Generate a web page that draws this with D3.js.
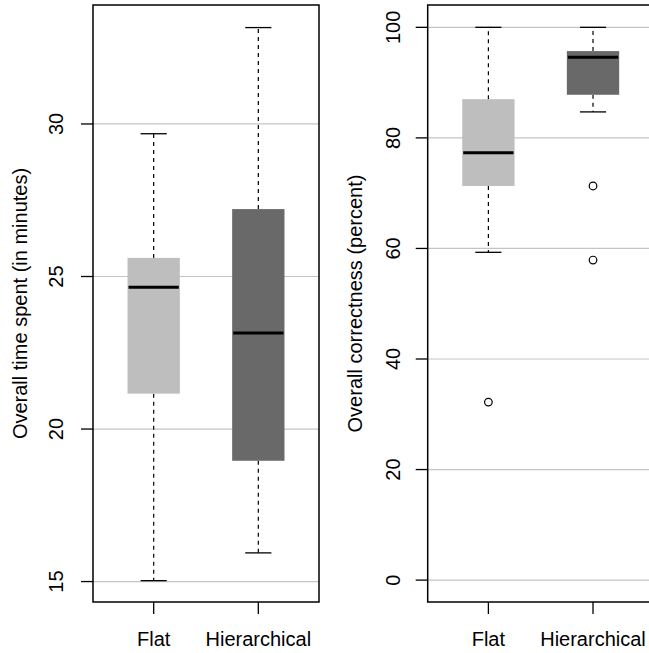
<!DOCTYPE html>
<html>
<head>
<meta charset="utf-8">
<script src="https://cdn.jsdelivr.net/npm/d3@7"></script>
<style>
  html, body { margin: 0; padding: 0; background: #fff; }
  svg { display: block; }
  text { font-family: "Liberation Sans", Arial, Helvetica, sans-serif; fill: #000; }
</style>
</head>
<body>
<script>
// ---- data ----
const categories = ["Flat", "Hierarchical"];
const boxColors = ["#bebebe", "#696969"];

// [lower whisker, Q1, median, Q3, upper whisker]
const timeStats = [
  [15.03, 21.16, 24.65, 25.61, 29.68],
  [15.94, 18.96, 23.15, 27.21, 33.16]
];
const timeOutliers = [[], []];
const timeTicks = [15, 20, 25, 30];
const timeLabel = "Overall time spent (in minutes)";

const corrStats = [
  [59.3, 71.3, 77.3, 87.0, 100],
  [84.7, 87.8, 94.6, 95.7, 100]
];
const corrOutliers = [[32.2], [71.3, 57.9]];
const corrTicks = [0, 20, 40, 60, 80, 100];
const corrLabel = "Overall correctness (percent)";

// ---- drawing ----
const W = 649, H = 653;
const svg = d3.select("body").append("svg").attr("width", W).attr("height", H);

function panel(opts) {
  const { left, right, top, bottom, domain, stats, outliers, ticks, label, tickBase, titleBase } = opts;
  const g = svg.append("g");
  const x = d3.scaleLinear().domain([0.42, 2.58]).range([left, right]);
  const y = d3.scaleLinear().domain(domain).range([bottom, top]);

  // grid lines
  g.selectAll("line.grid").data(ticks).enter().append("line")
    .attr("x1", left).attr("x2", right)
    .attr("y1", d => y(d)).attr("y2", d => y(d))
    .attr("stroke", "#c4c4c4").attr("stroke-width", 1.2);

  const boxW = 0.5, capW = 0.25;
  stats.forEach((s, i) => {
    const cx = x(i + 1);
    const hw = (x(1 + boxW / 2) - x(1));
    const cw = (x(1 + capW / 2) - x(1));
    // whiskers
    g.append("line").attr("x1", cx).attr("x2", cx).attr("y1", y(s[3])).attr("y2", y(s[4]))
      .attr("stroke", "#000").attr("stroke-width", 1.2).attr("stroke-dasharray", "4,4");
    g.append("line").attr("x1", cx).attr("x2", cx).attr("y1", y(s[1])).attr("y2", y(s[0]))
      .attr("stroke", "#000").attr("stroke-width", 1.2).attr("stroke-dasharray", "4,4");
    // caps
    [s[0], s[4]].forEach(v => {
      g.append("line").attr("x1", cx - cw).attr("x2", cx + cw).attr("y1", y(v)).attr("y2", y(v))
        .attr("stroke", "#000").attr("stroke-width", 1.3);
    });
    // box
    g.append("rect").attr("x", cx - hw).attr("width", 2 * hw)
      .attr("y", y(s[3])).attr("height", y(s[1]) - y(s[3]))
      .attr("fill", boxColors[i]);
    // median
    g.append("line").attr("x1", cx - hw + 1).attr("x2", cx + hw - 1).attr("y1", y(s[2])).attr("y2", y(s[2]))
      .attr("stroke", "#000").attr("stroke-width", 3);
    // outliers
    outliers[i].forEach(v => {
      g.append("circle").attr("cx", cx).attr("cy", y(v)).attr("r", 3.8)
        .attr("fill", "none").attr("stroke", "#000").attr("stroke-width", 1.2);
    });
  });

  // frame
  g.append("rect").attr("x", left).attr("y", top).attr("width", right - left).attr("height", bottom - top)
    .attr("fill", "none").attr("stroke", "#000").attr("stroke-width", 1.5);

  // y ticks
  ticks.forEach(t => {
    g.append("line").attr("x1", left - 12).attr("x2", left).attr("y1", y(t)).attr("y2", y(t))
      .attr("stroke", "#000").attr("stroke-width", 1.3);
    g.append("text").attr("transform", `translate(${tickBase},${y(t)}) rotate(-90)`)
      .attr("text-anchor", "middle").attr("font-size", 20).text(t);
  });
  // x ticks
  categories.forEach((c, i) => {
    const cx = x(i + 1);
    g.append("line").attr("x1", cx).attr("x2", cx).attr("y1", bottom).attr("y2", bottom + 12)
      .attr("stroke", "#000").attr("stroke-width", 1.3);
    g.append("text").attr("x", cx).attr("y", 646).attr("text-anchor", "middle")
      .attr("font-size", 20).text(c);
  });
  // title
  g.append("text").attr("transform", `translate(${titleBase},${(top + bottom) / 2}) rotate(-90)`)
    .attr("text-anchor", "middle").attr("font-size", 20).text(label);
}

panel({ left: 93, right: 319, top: 5, bottom: 602, domain: [14.33, 33.90],
  stats: timeStats, outliers: timeOutliers, ticks: timeTicks, label: timeLabel,
  tickBase: 63, titleBase: 27 });
panel({ left: 427.7, right: 653.7, top: 5, bottom: 602, domain: [-3.96, 104.04],
  stats: corrStats, outliers: corrOutliers, ticks: corrTicks, label: corrLabel,
  tickBase: 400, titleBase: 362 });
</script>
</body>
</html>
